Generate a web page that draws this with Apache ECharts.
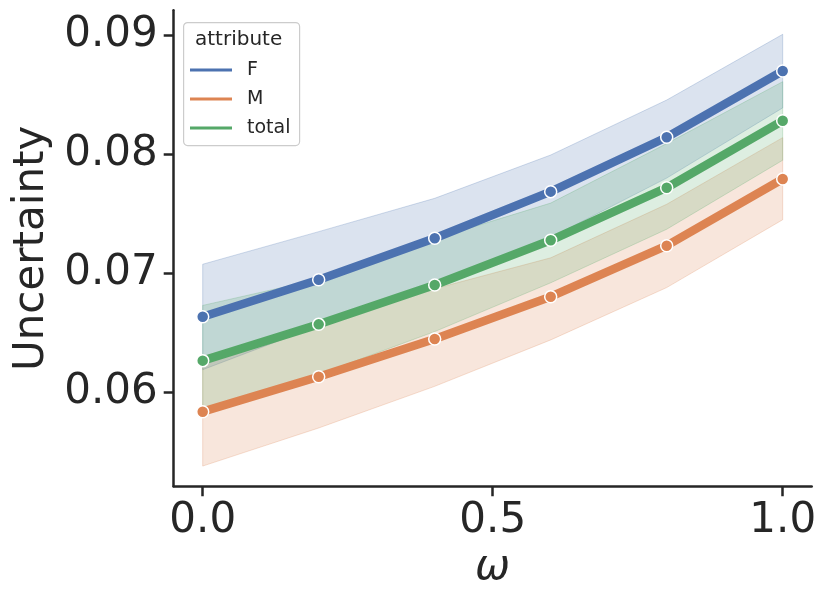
<!DOCTYPE html>
<html>
<head>
<meta charset="utf-8">
<script src="https://cdn.jsdelivr.net/npm/echarts@6/dist/echarts.min.js"></script>
<style>
html,body{margin:0;padding:0;background:#fff;}
#chart{width:830px;height:608px;}
</style>
</head>
<body>
<div id="chart"></div>
<script>
// ---- data ----
const omega = [0.0, 0.2, 0.4, 0.6, 0.8, 1.0];
const xTicks = [0.0, 0.5, 1.0];
const yTicks = [0.06, 0.07, 0.08, 0.09];
const seriesNames = ['F', 'M', 'total'];

const F_mean  = [0.06635, 0.06946, 0.07294, 0.07686, 0.08143, 0.08700];
const F_upper = [0.07076, 0.07350, 0.07630, 0.07994, 0.08456, 0.09008];
const F_lower = [0.06190, 0.06560, 0.06910, 0.07300, 0.07800, 0.08390];

const M_mean  = [0.05837, 0.06131, 0.06448, 0.06803, 0.07232, 0.07792];
const M_upper = [0.06300, 0.06570, 0.06870, 0.07130, 0.07580, 0.08140];
const M_lower = [0.05380, 0.05700, 0.06050, 0.06440, 0.06880, 0.07450];

const T_mean  = [0.06266, 0.06571, 0.06902, 0.07277, 0.07719, 0.08282];
const T_upper = [0.06730, 0.06950, 0.07290, 0.07590, 0.08090, 0.08610];
const T_lower = [0.05860, 0.06150, 0.06510, 0.06920, 0.07370, 0.07950];

const colors = {F: '#4c72b0', M: '#dd8452', total: '#55a868'};
const groups = {
  F: {mean: F_mean, upper: F_upper, lower: F_lower},
  M: {mean: M_mean, upper: M_upper, lower: M_lower},
  total: {mean: T_mean, upper: T_upper, lower: T_lower}
};

function pairs(arr) { return omega.map((x, i) => [x, arr[i]]); }
function hexA(hex, a) {
  const r = parseInt(hex.slice(1,3),16), g = parseInt(hex.slice(3,5),16), b = parseInt(hex.slice(5,7),16);
  return 'rgba(' + r + ',' + g + ',' + b + ',' + a + ')';
}

const series = [];
seriesNames.forEach(name => {
  const g = groups[name], c = colors[name];
  series.push({
    name: name + '_band', type: 'custom', coordinateSystem: 'cartesian2d',
    silent: true, z: 1,
    data: omega.map((x, i) => [x, g.lower[i], g.upper[i]]),
    encode: {x: 0, y: [1, 2]},
    renderItem: function (params, api) {
      if (params.dataIndex !== 0) return null;
      const up = omega.map((x, i) => api.coord([x, g.upper[i]]));
      const lo = omega.map((x, i) => api.coord([x, g.lower[i]])).reverse();
      return {
        type: 'polygon',
        shape: {points: up.concat(lo)},
        style: {fill: hexA(c, 0.2), stroke: hexA(c, 0.25), lineWidth: 1}
      };
    }
  });
});
seriesNames.forEach((name, k) => {
  const g = groups[name], c = colors[name];
  series.push({
    name: name, type: 'line', data: pairs(g.mean), z: 3 + k,
    color: c,
    symbol: 'circle', symbolSize: 12, showSymbol: true,
    lineStyle: {color: c, width: 8.5},
    itemStyle: {color: c, borderColor: '#ffffff', borderWidth: 1.5}
  });
});

const textColor = '#262626';
const chart = echarts.init(document.getElementById('chart'), null, {renderer: 'canvas'});
chart.setOption({
  animation: false,
  backgroundColor: '#ffffff',
  grid: {left: 173.7, right: 18.3, top: 10.3, bottom: 121.7, containLabel: false},
  xAxis: {
    type: 'value', min: -0.05, max: 1.05,
    name: 'ω', nameLocation: 'middle', nameGap: 58,
    nameTextStyle: {fontFamily: 'DejaVu Sans', fontStyle: 'italic', fontSize: 42, color: textColor},
    axisLine: {show: true, onZero: false, lineStyle: {color: textColor, width: 2.5}},
    axisTick: {show: true, length: 10, customValues: xTicks, lineStyle: {color: textColor, width: 2.5}},
    axisLabel: {customValues: xTicks, margin: 14, fontFamily: 'DejaVu Sans', fontSize: 42, color: textColor,
      formatter: v => Number(v).toFixed(1)},
    splitLine: {show: false}
  },
  yAxis: {
    type: 'value', min: 0.0521, max: 0.0921,
    name: 'Uncertainty', nameLocation: 'middle', nameGap: 112, nameRotate: 90,
    nameTextStyle: {fontFamily: 'DejaVu Sans', fontSize: 42, color: textColor},
    axisLine: {show: true, onZero: false, lineStyle: {color: textColor, width: 2.5}},
    axisTick: {show: true, length: 10, customValues: yTicks, lineStyle: {color: textColor, width: 2.5}},
    axisLabel: {customValues: yTicks, margin: 16, fontFamily: 'DejaVu Sans', fontSize: 42, color: textColor,
      formatter: v => Number(v).toFixed(2)},
    splitLine: {show: false}
  },
  legend: {
    data: seriesNames, orient: 'vertical', left: 185, top: 55, z: 60,
    icon: 'rect', itemWidth: 42, itemHeight: 3, itemGap: 9,
    itemStyle: {borderWidth: 0, opacity: 1},
    textStyle: {fontFamily: 'DejaVu Sans', fontSize: 19, color: textColor, lineHeight: 20, padding: [0,0,0,10]},
    selectedMode: false
  },
  graphic: [
    {type: 'rect', left: 183, top: 22, shape: {width: 116, height: 123, r: 4},
      style: {fill: 'rgba(255,255,255,0.8)', stroke: '#cccccc', lineWidth: 1.2}, z: 0, zlevel: 0},
    {type: 'text', left: 195, top: 30, z: 1,
      style: {text: 'attribute', fontFamily: 'DejaVu Sans', fontSize: 20, fill: textColor}}
  ],
  series: series
});
</script>
</body>
</html>
